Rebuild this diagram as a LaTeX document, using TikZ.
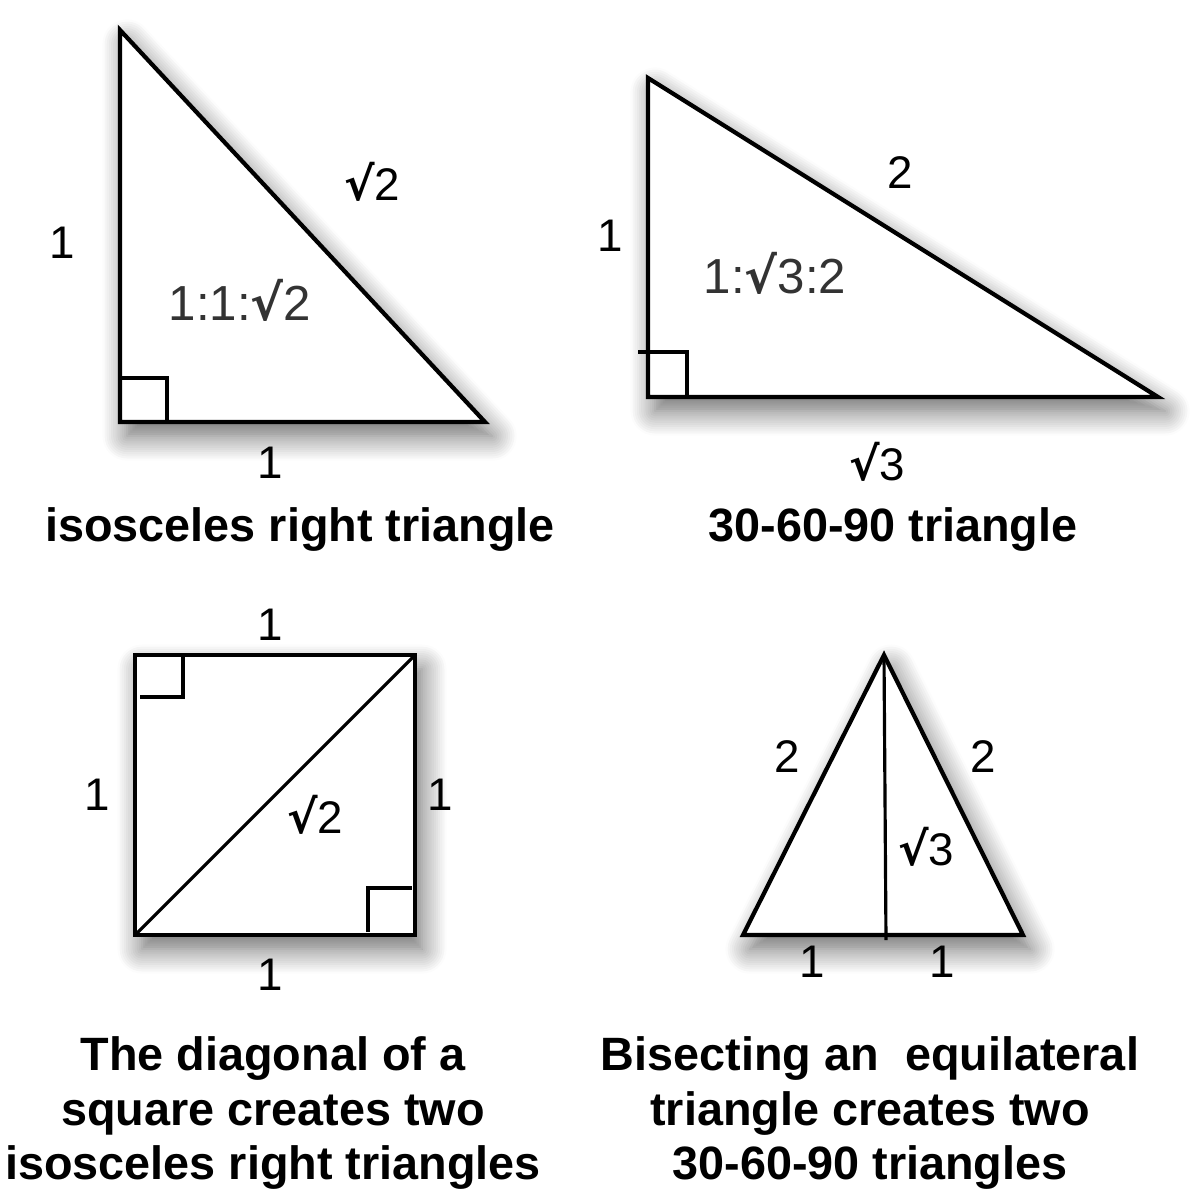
\documentclass[tikz,border=0pt]{standalone}
\usepackage{fontspec}
\setmainfont{Liberation Sans}
\newfontfamily\rootfont{DejaVu Sans}
\usetikzlibrary{shadows.blur}

\newcommand{\rt}{{\rootfont\bfseries √}}

\tikzset{
  figure/.style={fill=white, line width=1.2pt, line join=miter,
    blur shadow={shadow xshift=2pt, shadow yshift=-4pt, shadow blur radius=7pt, shadow blur steps=12, shadow opacity=60}},
  anglemark/.style={line width=0.9pt},
  inner/.style={line width=0.9pt},
  side/.style={font=\fontsize{13}{15}\selectfont},
  ratio/.style={font=\fontsize{14}{16}\selectfont, text=black!80},
  caption/.style={font=\fontsize{13.3}{15.6}\selectfont\bfseries, align=center},
}

\begin{document}
\begin{tikzpicture}[x=0.01cm, y=-0.01cm]
  \useasboundingbox (0,0) rectangle (1200,1200);

  % isosceles right triangle
  \coordinate (a1) at (120,30);
  \coordinate (a2) at (120,422);
  \coordinate (a3) at (485,422);
  \draw[figure] (a1) -- (a2) -- (a3) -- cycle;
  \draw[anglemark] (120,378) -| (167,422);
  \node[side] (a12) at (62,243) {1};
  \node[side] (a13) at (372,182) {\rt2};
  \node[side] (a23) at (270,463) {1};
  \node[ratio] (arat) at (240,300) {1:1:\rt2};
  \node[caption] (acap) at (300,530) {isosceles right triangle};

  % 30-60-90 triangle
  \coordinate (b1) at (648,78);
  \coordinate (b2) at (648,397);
  \coordinate (b3) at (1158,397);
  \draw[figure] (b1) -- (b2) -- (b3) -- cycle;
  \draw[anglemark] (638,352) -| (687,397);
  \node[side] (b12) at (610,236) {1};
  \node[side] (b13) at (900,173) {2};
  \node[side] (b23) at (877,462) {\rt3};
  \node[ratio] (brat) at (775,273) {1:\rt3:2};
  \node[caption] (bcap) at (893,530) {30-60-90 triangle};

  % square and its diagonal
  \coordinate (s1) at (135,655);
  \coordinate (s2) at (415,655);
  \coordinate (s3) at (415,935);
  \coordinate (s4) at (135,935);
  \draw[figure] (s1) -- (s2) -- (s3) -- (s4) -- cycle;
  \draw[inner] (s4) -- (s2);
  \draw[anglemark] (183,655) |- (140,697);
  \draw[anglemark] (368,932) |- (412,888);
  \node[side] (s12) at (270,625) {1};
  \node[side] (s14) at (97,795) {1};
  \node[side] (s23) at (440,795) {1};
  \node[side] (s34) at (270,975) {1};
  \node[side] (s24) at (315,815) {\rt2};
  \node[caption] (scap) at (273,1113) {The diagonal of a\\square creates two\\isosceles right triangles};

  % equilateral triangle and its bisector
  \coordinate (e1) at (884,655);
  \coordinate (e2) at (743,935);
  \coordinate (e3) at (1023,935);
  \coordinate (em) at (886,940);
  \draw[figure] (e1) -- (e2) -- (e3) -- cycle;
  \draw[inner] (e1) -- (em);
  \node[side] (e12) at (787,757) {2};
  \node[side] (e13) at (983,757) {2};
  \node[side] (e1m) at (926,847) {\rt3};
  \node[side] (e2m) at (812,962) {1};
  \node[side] (e3m) at (942,962) {1};
  \node[caption] (ecap) at (870,1113) {Bisecting an\ \ equilateral\\triangle creates two\\30-60-90 triangles};
\end{tikzpicture}
\end{document}
